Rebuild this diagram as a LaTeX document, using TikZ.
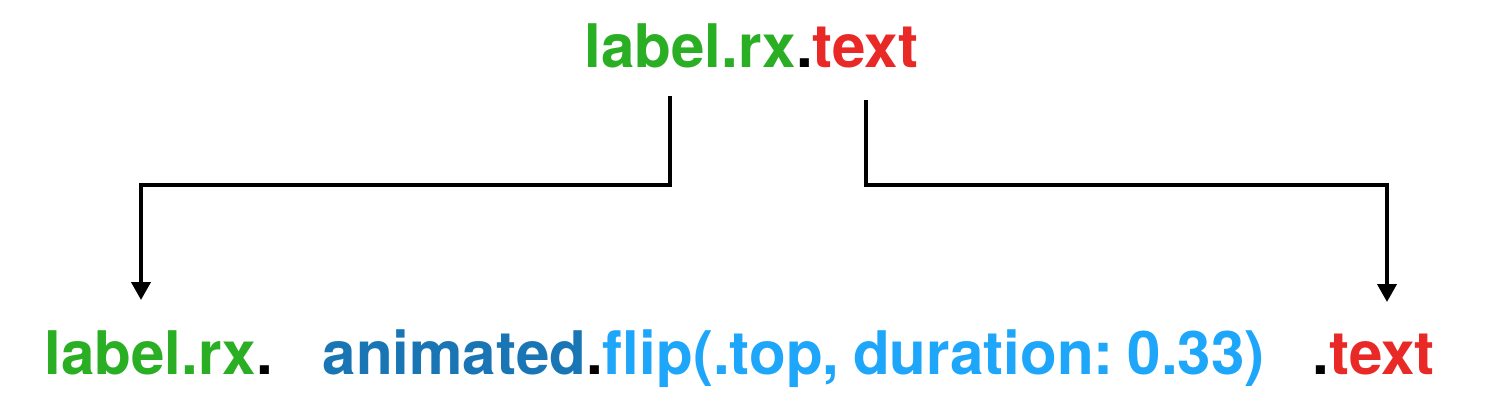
\documentclass[tikz,border=0pt]{standalone}
\usepackage{fontspec}
\setmainfont{TeX Gyre Heros}
\usetikzlibrary{arrows.meta}
\definecolor{rxgreen}{RGB}{42,174,36}
\definecolor{txtred}{RGB}{232,41,38}
\definecolor{animblue}{RGB}{26,117,180}
\definecolor{flipblue}{RGB}{30,166,250}
\tikzset{
	code/.style={inner sep=0pt, font=\fontsize{17.1}{20}\selectfont\bfseries},
	flow/.style={line width=1.1pt, ->, >={Triangle[length=0.18cm,width=0.19cm]}}
}
\begin{document}
\begin{tikzpicture}
	\useasboundingbox (0,0) rectangle (14.92,4.12);
	\node[code, anchor=base west] (src) at (5.84,3.45) {\textcolor{rxgreen}{label.rx}.\textcolor{txtred}{text}};
	\node[code, anchor=base west] (rx) at (0.44,0.38) {\textcolor{rxgreen}{label.rx}.};
	\node[code, anchor=base west] (flip) at (3.22,0.38) {\textcolor{animblue}{animated}.\textcolor{flipblue}{flip(.top,\hspace{0.23em}duration:\hspace{0.23em}0.33)}};
	\node[code, anchor=base west] (txt) at (13.12,0.38) {.\textcolor{txtred}{text}};
	\coordinate (l0) at (6.70,3.16);
	\coordinate (r0) at (8.66,3.12);
	\coordinate (lt) at (1.41,1.12);
	\coordinate (rt) at (13.87,1.10);
	\draw[flow] (l0) -- ++(0,-0.89) -| (lt);
	\draw[flow] (r0) -- ++(0,-0.85) -| (rt);
\end{tikzpicture}
\end{document}
